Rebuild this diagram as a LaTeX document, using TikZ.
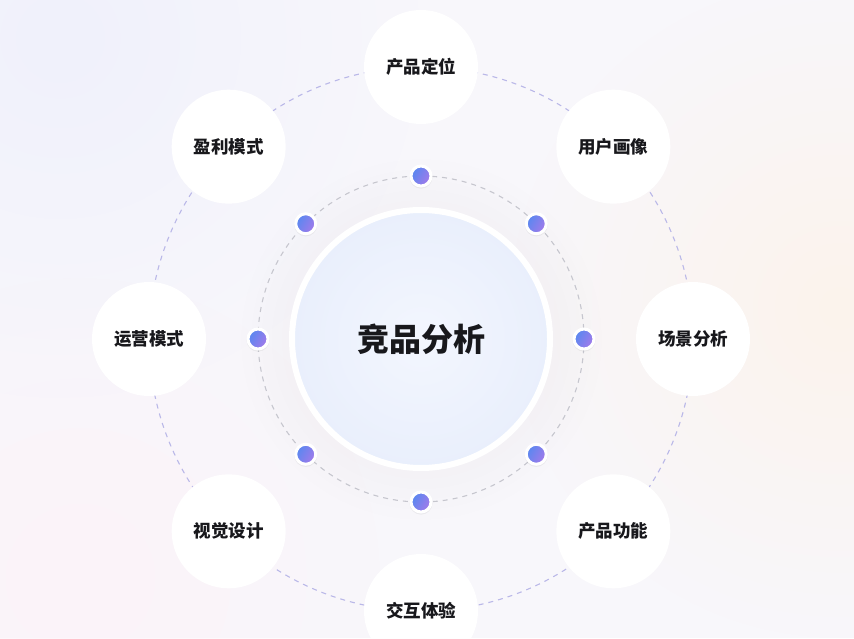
\documentclass[tikz,border=0pt]{standalone}
\usepackage{fontspec}
\newfontfamily\cjkfont{Noto Sans CJK SC}
\usepackage{tikz}
\usetikzlibrary{positioning, calc, fadings, shadows}
\definecolor{ringlav}{RGB}{186, 184, 232}
\definecolor{ringgray}{RGB}{200, 200, 208}
\definecolor{dotblue}{RGB}{88, 136, 240}
\definecolor{dotviolet}{RGB}{164, 122, 234}
\definecolor{corefill}{RGB}{233, 239, 252}
\definecolor{corelight}{RGB}{243, 246, 254}
\definecolor{bgbase}{RGB}{248, 247, 251}
\definecolor{bgpeach}{RGB}{252, 243, 236}
\definecolor{bglav}{RGB}{240, 241, 252}
\definecolor{bgpink}{RGB}{252, 243, 249}
\definecolor{labeltext}{RGB}{24, 24, 28}

\tikzfading[name=softglow, inner color=transparent!0, outer color=transparent!100]

\tikzset{
  topic/.style={circle, fill=white, minimum size=114pt, inner sep=0pt,
    font=\cjkfont\bfseries\fontsize{17.5}{17.5}\selectfont, text=labeltext},
  bead/.style={circle, minimum size=20pt, inner sep=0pt, draw=white, line width=3pt,
    left color=dotblue, right color=dotviolet, shading angle=60,
    drop shadow={opacity=0.10, shadow xshift=0pt, shadow yshift=-1pt, shadow scale=1.15}},
  ring/.style={line width=1.1pt, dash pattern=on 5pt off 5pt},
}

\begin{document}
\begin{tikzpicture}[x=1pt, y=1pt]
  \useasboundingbox (0,0) rectangle (854,638);
  \clip (0,0) rectangle (854,638);

  % Background tint
  \fill[bgbase] (0,0) rectangle (854,638);
  \fill[bgpeach, path fading=softglow] (840,330) circle (330);
  \fill[bglav, path fading=softglow] (60,600) circle (360);
  \fill[bgpink, path fading=softglow] (80,60) circle (300);

  \coordinate (core) at (421,299);

  % Outer and inner dashed rings
  \draw[ring, ringlav] (core) circle (272);
  \draw[ring, ringgray] (core) circle (163);

  % Soft shadow round the centre
  \fill[black!80!orange, opacity=0.07, path fading=softglow] (core) circle (185);

  % Centre
  \node[circle, minimum size=258pt, inner sep=0pt, draw=white, line width=6pt,
    inner color=corelight, outer color=corefill,
    font=\cjkfont\bfseries\fontsize{32}{32}\selectfont, text=labeltext] (analysis) at (core) {竞品分析};

  % Beads on the inner ring
  \node[bead] (b1) at ($(core)+(90:163)$) {};
  \node[bead] (b2) at ($(core)+(45:163)$) {};
  \node[bead] (b3) at ($(core)+(0:163)$) {};
  \node[bead] (b4) at ($(core)+(-45:163)$) {};
  \node[bead] (b5) at ($(core)+(-90:163)$) {};
  \node[bead] (b6) at ($(core)+(-135:163)$) {};
  \node[bead] (b7) at ($(core)+(180:163)$) {};
  \node[bead] (b8) at ($(core)+(135:163)$) {};

  % Topics on the outer ring
  \node[topic] (position) at ($(core)+(90:272)$) {产品定位};
  \node[topic] (persona) at ($(core)+(45:272)$) {用户画像};
  \node[topic] (scene) at ($(core)+(0:272)$) {场景分析};
  \node[topic] (feature) at ($(core)+(-45:272)$) {产品功能};
  \node[topic] (interact) at ($(core)+(-90:272)$) {交互体验};
  \node[topic] (visual) at ($(core)+(-135:272)$) {视觉设计};
  \node[topic] (operate) at ($(core)+(180:272)$) {运营模式};
  \node[topic] (profit) at ($(core)+(135:272)$) {盈利模式};
\end{tikzpicture}
\end{document}
